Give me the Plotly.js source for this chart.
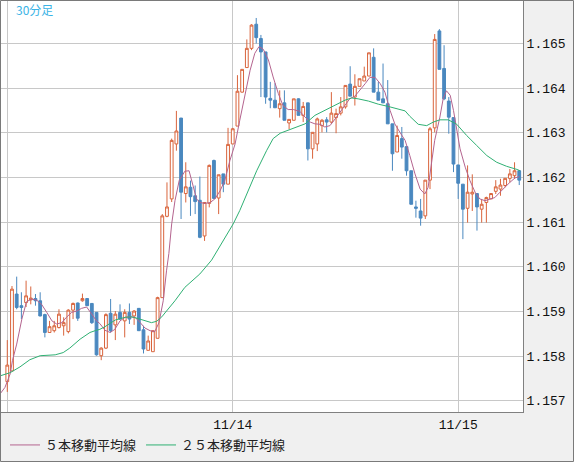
<!DOCTYPE html>
<html>
<head>
<meta charset="utf-8">
<script src="https://cdn.plot.ly/plotly-3.0.1.min.js"></script>
<style>
  html, body { margin: 0; padding: 0; background: #f0f0f0; }
  #chart { width: 574px; height: 462px; }
</style>
</head>
<body>
<div id="chart"></div>
<script>
// 30-minute bars, 11/13 00:00 .. 11/15 06:30 (bar 48 = 11/14, bar 96 = 11/15)
var open = [
  1.15743, 1.15767, 1.15939, 1.15913, 1.15920, 1.15926, 1.15929, 1.15924, 1.15893, 1.15853,
  1.15857, 1.15864, 1.15868, 1.15855, 1.15903, 1.15919, 1.15924, 1.15929, 1.15918, 1.15898,
  1.15801, 1.15818, 1.15896, 1.15870, 1.15898, 1.15879, 1.15898, 1.15890, 1.15907, 1.15859,
  1.15813, 1.15810, 1.15840, 1.15931, 1.16113, 1.16152, 1.16275, 1.16333, 1.16164, 1.16178,
  1.16159, 1.16149, 1.16069, 1.16142, 1.16238, 1.16154, 1.16208, 1.16185, 1.16275, 1.16315,
  1.16391, 1.16446, 1.16489, 1.16543, 1.16511, 1.16481, 1.16377, 1.16373, 1.16354, 1.16367,
  1.16322, 1.16328, 1.16376, 1.16339, 1.16367, 1.16264, 1.16275, 1.16316, 1.16329, 1.16324,
  1.16334, 1.16344, 1.16358, 1.16409, 1.16380, 1.16404, 1.16416, 1.16427, 1.16469, 1.16391,
  1.16376, 1.16365, 1.16320, 1.16257, 1.16287, 1.16269, 1.16215, 1.16134, 1.16125, 1.16114,
  1.16194, 1.16311, 1.16528, 1.16444, 1.16371, 1.16334, 1.16228, 1.16185, 1.16131, 1.16163,
  1.16164, 1.16129, 1.16144, 1.16152, 1.16169, 1.16174, 1.16182, 1.16198, 1.16204, 1.16215
];
var high = [
  1.15836, 1.15957, 1.15978, 1.15943, 1.15969, 1.15956, 1.15939, 1.15943, 1.15895, 1.15879,
  1.15879, 1.15905, 1.15887, 1.15905, 1.15920, 1.15920, 1.15940, 1.15930, 1.15919, 1.15898,
  1.15820, 1.15896, 1.15928, 1.15901, 1.15916, 1.15905, 1.15918, 1.15903, 1.15907, 1.15868,
  1.15846, 1.15857, 1.15933, 1.16118, 1.16189, 1.16287, 1.16349, 1.16333, 1.16234, 1.16193,
  1.16182, 1.16202, 1.16144, 1.16229, 1.16240, 1.16206, 1.16208, 1.16311, 1.16311, 1.16429,
  1.16442, 1.16509, 1.16543, 1.16557, 1.16519, 1.16481, 1.16414, 1.16411, 1.16395, 1.16395,
  1.16330, 1.16376, 1.16377, 1.16369, 1.16367, 1.16301, 1.16334, 1.16331, 1.16335, 1.16391,
  1.16354, 1.16380, 1.16406, 1.16449, 1.16431, 1.16421, 1.16448, 1.16479, 1.16489, 1.16414,
  1.16455, 1.16418, 1.16320, 1.16316, 1.16313, 1.16269, 1.16215, 1.16148, 1.16152, 1.16194,
  1.16313, 1.16521, 1.16532, 1.16496, 1.16380, 1.16334, 1.16228, 1.16185, 1.16227, 1.16207,
  1.16164, 1.16152, 1.16157, 1.16164, 1.16194, 1.16197, 1.16198, 1.16219, 1.16234, 1.16215
];
var low = [
  1.15720, 1.15766, 1.15905, 1.15883, 1.15910, 1.15916, 1.15913, 1.15889, 1.15842, 1.15853,
  1.15853, 1.15862, 1.15846, 1.15851, 1.15883, 1.15879, 1.15922, 1.15912, 1.15872, 1.15801,
  1.15791, 1.15816, 1.15853, 1.15836, 1.15881, 1.15842, 1.15872, 1.15870, 1.15857, 1.15806,
  1.15813, 1.15810, 1.15840, 1.15931, 1.16111, 1.16145, 1.16260, 1.16107, 1.16144, 1.16114,
  1.16118, 1.16064, 1.16058, 1.16133, 1.16153, 1.16118, 1.16167, 1.16185, 1.16275, 1.16315,
  1.16390, 1.16446, 1.16485, 1.16500, 1.16380, 1.16365, 1.16355, 1.16356, 1.16334, 1.16328,
  1.16308, 1.16328, 1.16339, 1.16324, 1.16238, 1.16242, 1.16259, 1.16301, 1.16301, 1.16320,
  1.16299, 1.16339, 1.16354, 1.16382, 1.16361, 1.16404, 1.16416, 1.16427, 1.16391, 1.16373,
  1.16367, 1.16320, 1.16215, 1.16257, 1.16242, 1.16204, 1.16140, 1.16110, 1.16092, 1.16107,
  1.16174, 1.16301, 1.16442, 1.16373, 1.16298, 1.16212, 1.16152, 1.16062, 1.16099, 1.16125,
  1.16081, 1.16099, 1.16099, 1.16152, 1.16163, 1.16159, 1.16178, 1.16189, 1.16197, 1.16183
];
var close = [
  1.15780, 1.15950, 1.15909, 1.15909, 1.15935, 1.15930, 1.15924, 1.15890, 1.15853, 1.15866,
  1.15868, 1.15894, 1.15875, 1.15903, 1.15918, 1.15885, 1.15929, 1.15913, 1.15875, 1.15803,
  1.15818, 1.15893, 1.15857, 1.15894, 1.15883, 1.15898, 1.15883, 1.15901, 1.15857, 1.15816,
  1.15834, 1.15857, 1.15931, 1.16114, 1.16134, 1.16283, 1.16304, 1.16167, 1.16179, 1.16157,
  1.16146, 1.16066, 1.16144, 1.16227, 1.16153, 1.16206, 1.16185, 1.16274, 1.16309, 1.16393,
  1.16442, 1.16489, 1.16541, 1.16513, 1.16481, 1.16380, 1.16373, 1.16356, 1.16365, 1.16328,
  1.16330, 1.16376, 1.16339, 1.16359, 1.16264, 1.16301, 1.16331, 1.16328, 1.16324, 1.16344,
  1.16343, 1.16358, 1.16406, 1.16382, 1.16404, 1.16421, 1.16427, 1.16479, 1.16391, 1.16373,
  1.16367, 1.16320, 1.16253, 1.16294, 1.16268, 1.16215, 1.16140, 1.16131, 1.16109, 1.16194,
  1.16309, 1.16509, 1.16442, 1.16376, 1.16335, 1.16230, 1.16187, 1.16129, 1.16167, 1.16167,
  1.16134, 1.16140, 1.16155, 1.16164, 1.16179, 1.16183, 1.16198, 1.16208, 1.16215, 1.16194
];

// moving averages (bar position, price)
var ma5X = [
  -1.5, -0.5, 0.6, 1.1, 2.0, 3.1, 4.1, 5.2, 6.3, 7.3, 8.4, 9.5, 10.5, 11.6, 12.6, 13.7, 14.8,
  15.8, 16.9, 18.0, 19.0, 19.7, 20.8, 21.9, 22.9, 24.0, 25.1, 26.1, 27.2, 28.3, 29.3, 30.4,
  31.4, 32.3, 33.2, 33.9, 34.4, 35.0, 35.7, 36.6, 37.8, 38.7, 39.5, 40.3, 41.0, 42.1, 43.2,
  44.2, 45.3, 46.3, 47.4, 48.5, 49.5, 50.6, 51.7, 52.7, 53.6, 54.5, 55.6, 56.6, 57.7, 58.7,
  59.8, 60.9, 62.3, 63.4, 64.5, 65.5, 66.6, 67.6, 68.7, 69.8, 70.8, 71.9, 72.9, 74.0, 75.1,
  76.2, 77.2, 78.3, 79.4, 80.4, 81.5, 82.5, 83.6, 84.7, 85.7, 86.8, 87.9, 88.9, 89.6, 90.3,
  91.0, 92.1, 92.8, 93.5, 94.3, 95.0, 95.7, 96.4, 97.5, 98.5, 99.6, 100.6, 101.7, 102.8,
  103.8, 104.9, 105.9, 107.0, 108.1, 109.0
];
var ma5 = [
  1.15716, 1.15730, 1.15760, 1.15790, 1.15827, 1.15883, 1.15922, 1.15928, 1.15925, 1.15916,
  1.15898, 1.15879, 1.15872, 1.15875, 1.15887, 1.15898, 1.15901, 1.15907, 1.15910, 1.15894,
  1.15879, 1.15873, 1.15858, 1.15853, 1.15860, 1.15879, 1.15887, 1.15888, 1.15887, 1.15875,
  1.15863, 1.15857, 1.15855, 1.15875, 1.15924, 1.15991, 1.16030, 1.16096, 1.16148, 1.16193,
  1.16214, 1.16215, 1.16185, 1.16152, 1.16144, 1.16142, 1.16144, 1.16152, 1.16170, 1.16193,
  1.16238, 1.16275, 1.16328, 1.16388, 1.16440, 1.16478, 1.16493, 1.16487, 1.16463, 1.16425,
  1.16388, 1.16361, 1.16352, 1.16352, 1.16348, 1.16335, 1.16324, 1.16320, 1.16319, 1.16313,
  1.16316, 1.16331, 1.16346, 1.16361, 1.16376, 1.16382, 1.16395, 1.16410, 1.16424, 1.16424,
  1.16410, 1.16391, 1.16350, 1.16320, 1.16301, 1.16283, 1.16249, 1.16208, 1.16174, 1.16163,
  1.16178, 1.16230, 1.16283, 1.16335, 1.16376, 1.16394, 1.16384, 1.16350, 1.16305, 1.16264,
  1.16223, 1.16193, 1.16167, 1.16152, 1.16148, 1.16152, 1.16155, 1.16167, 1.16178, 1.16189,
  1.16199, 1.16202
];
var ma25X = [
  -1.5, 0.6, 2.7, 4.8, 7.0, 9.1, 10.2, 11.9, 13.3, 15.5, 17.6, 18.7, 19.7, 20.8, 23.0, 25.1,
  26.5, 27.9, 29.3, 30.7, 31.8, 32.9, 33.9, 35.7, 37.8, 40.0, 41.0, 43.5, 46.0, 48.1, 49.5,
  51.7, 53.1, 55.2, 56.6, 58.1, 60.2, 62.3, 63.4, 65.5, 67.6, 69.8, 71.9, 73.3, 74.7, 76.9,
  79.0, 81.1, 83.2, 84.7, 85.7, 87.5, 89.3, 90.7, 92.1, 93.9, 95.7, 97.8, 99.9, 102.1, 104.2,
  106.3, 108.5, 109.2
];
var ma25 = [
  1.15756, 1.15763, 1.15776, 1.15792, 1.15801, 1.15802, 1.15803, 1.15808, 1.15818, 1.15838,
  1.15853, 1.15857, 1.15860, 1.15866, 1.15881, 1.15887, 1.15888, 1.15884, 1.15879, 1.15875,
  1.15878, 1.15888, 1.15901, 1.15924, 1.15954, 1.15976, 1.15984, 1.16015, 1.16058, 1.16096,
  1.16126, 1.16178, 1.16215, 1.16260, 1.16287, 1.16299, 1.16307, 1.16316, 1.16320, 1.16339,
  1.16350, 1.16361, 1.16373, 1.16378, 1.16376, 1.16371, 1.16364, 1.16359, 1.16354, 1.16349,
  1.16337, 1.16319, 1.16316, 1.16324, 1.16329, 1.16329, 1.16319, 1.16294, 1.16272, 1.16249,
  1.16234, 1.16225, 1.16218, 1.16215
];

var dayTicks = [0, 48, 96];
var dayLabels = ['', '11/14', '11/15'];
var priceTicks = [1.157, 1.158, 1.159, 1.160, 1.161, 1.162, 1.163, 1.164, 1.165];

var bars = open.map(function (v, i) { return i; });

var candles = {
  type: 'candlestick',
  x: bars, open: open, high: high, low: low, close: close,
  increasing: {line: {color: '#d9643c', width: 1}, fillcolor: '#ffffff'},
  decreasing: {line: {color: '#4a88bf', width: 1}, fillcolor: '#4a88bf'},
  whiskerwidth: 0,
  hoverinfo: 'skip',
  showlegend: false
};
var line5 = {
  type: 'scatter', mode: 'lines', name: '５本移動平均線',
  x: ma5X, y: ma5,
  line: {color: '#b4648f', width: 1},
  hoverinfo: 'skip'
};
var line25 = {
  type: 'scatter', mode: 'lines', name: '２５本移動平均線',
  x: ma25X, y: ma25,
  line: {color: '#2fb073', width: 1},
  hoverinfo: 'skip'
};

var W = 522, H = 411; // plot area size in px
var layout = {
  width: 574, height: 462,
  margin: {l: 1, r: 51, t: 1, b: 50, pad: 0},
  paper_bgcolor: '#f0f0f0',
  plot_bgcolor: '#ffffff',
  boxgap: 0.15,
  font: {family: 'Liberation Mono, DejaVu Sans Mono, monospace', size: 13, color: '#111'},
  xaxis: {
    range: [-1.34, 109.8],
    tickmode: 'array', tickvals: dayTicks, ticktext: dayLabels,
    showgrid: true, gridcolor: '#c8c8c8', gridwidth: 1,
    showline: true, linecolor: '#808080', linewidth: 1,
    zeroline: false, ticks: '',
    rangeslider: {visible: false},
    fixedrange: true
  },
  yaxis: {
    side: 'right',
    range: [1.15675, 1.16595],
    tickmode: 'array', tickvals: priceTicks,
    ticktext: priceTicks.map(function (v) { return v.toFixed(3); }),
    showgrid: true, gridcolor: '#c8c8c8', gridwidth: 1,
    showline: true, linecolor: '#808080', linewidth: 1,
    zeroline: false, ticks: '',
    fixedrange: true
  },
  showlegend: true,
  legend: {
    orientation: 'h',
    x: 4 / W, xanchor: 'left',
    y: -33 / H, yanchor: 'middle',
    bgcolor: 'rgba(0,0,0,0)',
    font: {family: 'Noto Sans CJK JP', size: 13, color: '#222'}
  },
  annotations: [{
    text: '30分足', showarrow: false,
    xref: 'paper', yref: 'paper',
    x: 13 / W, xanchor: 'left',
    y: (412 - 10) / H, yanchor: 'middle',
    font: {family: 'Noto Sans CJK JP', size: 12, color: '#3ab4e6'}
  }],
  shapes: [{
    type: 'rect', xref: 'paper', yref: 'paper',
    x0: -0.5 / W, x1: 572.5 / W,
    y0: -49.5 / H, y1: 411.5 / H,
    line: {color: '#7a7a7a', width: 1}
  }]
};

var config = {displayModeBar: false, staticPlot: true};
Plotly.newPlot('chart', [candles, line5, line25], layout, config);
</script>
</body>
</html>
